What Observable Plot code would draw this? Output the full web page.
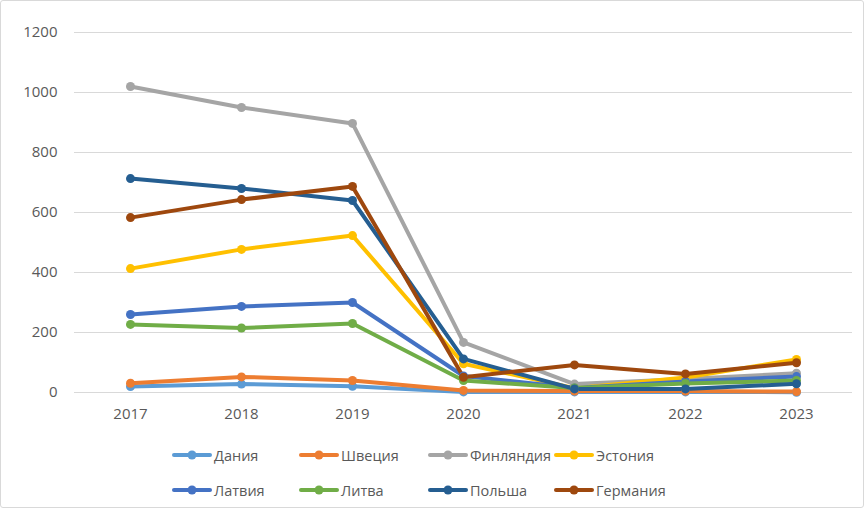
<!DOCTYPE html>
<html>
<head>
<meta charset="utf-8">
<script src="https://cdn.jsdelivr.net/npm/d3@7"></script>
<script src="https://cdn.jsdelivr.net/npm/@observablehq/plot@0.6"></script>
<style>
  html, body { margin: 0; padding: 0; background: #fff; }
  #wrap { position: relative; width: 864px; height: 508px; overflow: hidden; font-family: "Open Sans", "Liberation Sans", Arial, sans-serif; }
  #frame { position: absolute; left: 0; top: 0; width: 862px; height: 506px; border: 1px solid #d9d9d9; border-radius: 3px; pointer-events: none; }
  #legend { position: absolute; left: 0; top: 0; width: 864px; height: 508px; }
  .item { position: absolute; display: flex; align-items: center; font-size: 14.5px; color: #595959; white-space: nowrap; }
  .item svg { margin-right: 2px; }
</style>
</head>
<body>
<div id="wrap"><div id="chart"></div><div id="legend"></div><div id="frame"></div></div>
<script>
const years = ["2017", "2018", "2019", "2020", "2021", "2022", "2023"];
const countries = ["Дания", "Швеция", "Финляндия", "Эстония", "Латвия", "Литва", "Польша", "Германия"];
const colors = ["#5B9BD5", "#ED7D31", "#A5A5A5", "#FFC000", "#4472C4", "#70AD47", "#255E91", "#9E480E"];
const yTicks = [0, 200, 400, 600, 800, 1000, 1200];

const denmark   = [20, 28, 21, 2, 2, 2, 1];
const sweden    = [31, 52, 40, 7, 5, 5, 3];
const finland   = [1020, 950, 897, 167, 28, 45, 64];
const estonia   = [413, 477, 523, 96, 14, 50, 110];
const latvia    = [260, 287, 300, 55, 15, 37, 53];
const lithuania = [227, 215, 230, 40, 15, 30, 40];
const poland    = [713, 680, 640, 112, 12, 12, 29];
const germany   = [583, 643, 687, 51, 92, 62, 99];

const seriesValues = [denmark, sweden, finland, estonia, latvia, lithuania, poland, germany];

const data = [];
countries.forEach((c, i) => {
  years.forEach((y, j) => data.push({country: c, year: y, value: seriesValues[i][j], order: i}));
});

const chart = Plot.plot({
  width: 864,
  height: 432,
  marginLeft: 74,
  marginRight: 12,
  marginTop: 32,
  marginBottom: 40,
  style: {fontFamily: "'Open Sans', 'Liberation Sans', Arial, sans-serif", fontSize: "15px", color: "#595959", background: "transparent"},
  x: {type: "point", domain: years, padding: 0.5, label: null},
  y: {domain: [0, 1200], ticks: yTicks, label: null},
  color: {domain: countries, range: colors},
  marks: [
    Plot.gridY(yTicks, {stroke: "#d9d9d9", strokeOpacity: 1, strokeWidth: 1}),
    Plot.axisY(yTicks, {tickSize: 0, tickPadding: 17, tickFormat: d3.format("d"), fill: "#595959", fontSize: 15, label: null}),
    Plot.axisX({tickSize: 0, tickPadding: 16, fill: "#595959", fontSize: 15, label: null}),
    Plot.line(data, {x: "year", y: "value", z: "country", stroke: "country", strokeWidth: 4, strokeLinejoin: "round", strokeLinecap: "round"}),
    Plot.dot(data, {x: "year", y: "value", fill: "country", r: 4.5, stroke: null})
  ]
});
document.getElementById("chart").appendChild(chart);

// Legend below the plot area
const legend = document.getElementById("legend");
const colX = [172, 299, 428, 554];
const rowY = [455, 490];
countries.forEach((c, i) => {
  const div = document.createElement("div");
  div.className = "item";
  div.style.left = colX[i % 4] + "px";
  div.style.top = (rowY[Math.floor(i / 4)] - 10) + "px";
  div.style.height = "20px";
  div.innerHTML = `<svg width="40" height="12"><line x1="2" y1="6" x2="38" y2="6" stroke="${colors[i]}" stroke-width="4" stroke-linecap="round"/><circle cx="20" cy="6" r="4.5" fill="${colors[i]}"/></svg>${c}`;
  legend.appendChild(div);
});
</script>
</body>
</html>
